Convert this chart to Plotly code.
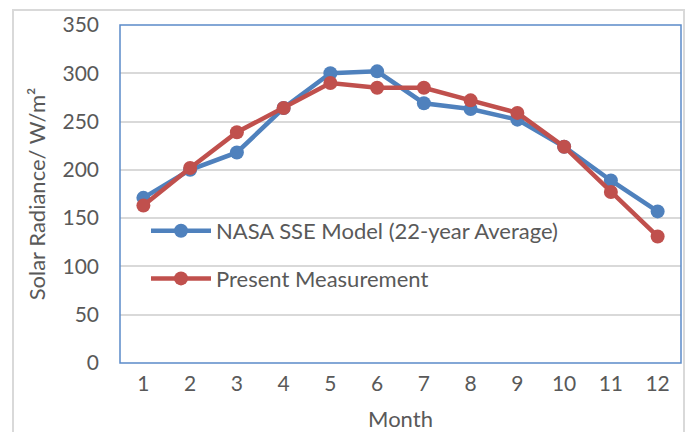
import plotly.graph_objects as go

months = ["1", "2", "3", "4", "5", "6", "7", "8", "9", "10", "11", "12"]
nasa_sse = [171, 200, 218, 264, 300, 302, 269, 263, 252, 224, 189, 157]
present = [163, 202, 239, 264, 290, 285, 285, 272, 259, 224, 177, 131]
y_ticks = [0, 50, 100, 150, 200, 250, 300, 350]

BLUE = "#4F81BD"
RED = "#C0504D"
FONT = "Lato, Carlito, Calibri, sans-serif"

fig = go.Figure()
fig.add_trace(go.Scatter(
    x=months, y=nasa_sse, mode="lines+markers",
    name="NASA SSE Model (22-year Average)", legendgroup="nasa",
    line=dict(color=BLUE, width=4.5),
    marker=dict(color=BLUE, size=14),
))
fig.add_trace(go.Scatter(
    x=months, y=present, mode="lines+markers",
    name="Present Measurement", legendgroup="present",
    line=dict(color=RED, width=4.5),
    marker=dict(color=RED, size=14),
))

L, R, T, B = 120, 7, 25, 69
W, H = 688, 432
pw, ph = W - L - R, H - T - B

def px_x(v):
    return (v - L) / pw

def px_y(v):
    return (H - B - v) / ph

fig.update_layout(
    width=W, height=H,
    margin=dict(l=L, r=R, t=T, b=B, autoexpand=False),
    paper_bgcolor="white", plot_bgcolor="white",
    font=dict(family=FONT, size=21, color="#595959"),
    showlegend=True,
    legend=dict(
        x=px_x(146), y=px_y(210), xanchor="left", yanchor="top",
        bgcolor="rgba(0,0,0,0)", font=dict(size=22, color="#595959"),
        itemwidth=60, tracegroupgap=16,
    ),
    xaxis=dict(
        type="category", range=[-0.5, 11.5],
        showgrid=False, zeroline=False, automargin=False,
        showline=False, ticks="", ticklabelstandoff=6,
        title=dict(text="Month", standoff=18, font=dict(size=22)),
        tickfont=dict(size=21),
    ),
    yaxis=dict(
        range=[0, 350], tickvals=y_ticks, automargin=False,
        showgrid=True, gridcolor="#D9D9D9", gridwidth=1.5,
        zeroline=False, showline=False, ticks="",
        ticklabelstandoff=20,
        title=dict(text="Solar Radiance/ W/m²", standoff=10, font=dict(size=22)),
        tickfont=dict(size=21),
    ),
    shapes=[
        dict(type="rect", xref="paper", yref="paper",
             x0=px_x(13), x1=px_x(684), y0=px_y(445), y1=px_y(10),
             line=dict(color="#D9D9D9", width=2), layer="below"),
        dict(type="rect", xref="paper", yref="paper",
             x0=0, x1=1, y0=0, y1=1,
             line=dict(color="#5B8BC9", width=1.5), layer="above"),
    ],
)

fig.write_html("out.html", config={"displayModeBar": False},
               post_script="document.body.style.margin='0';")
